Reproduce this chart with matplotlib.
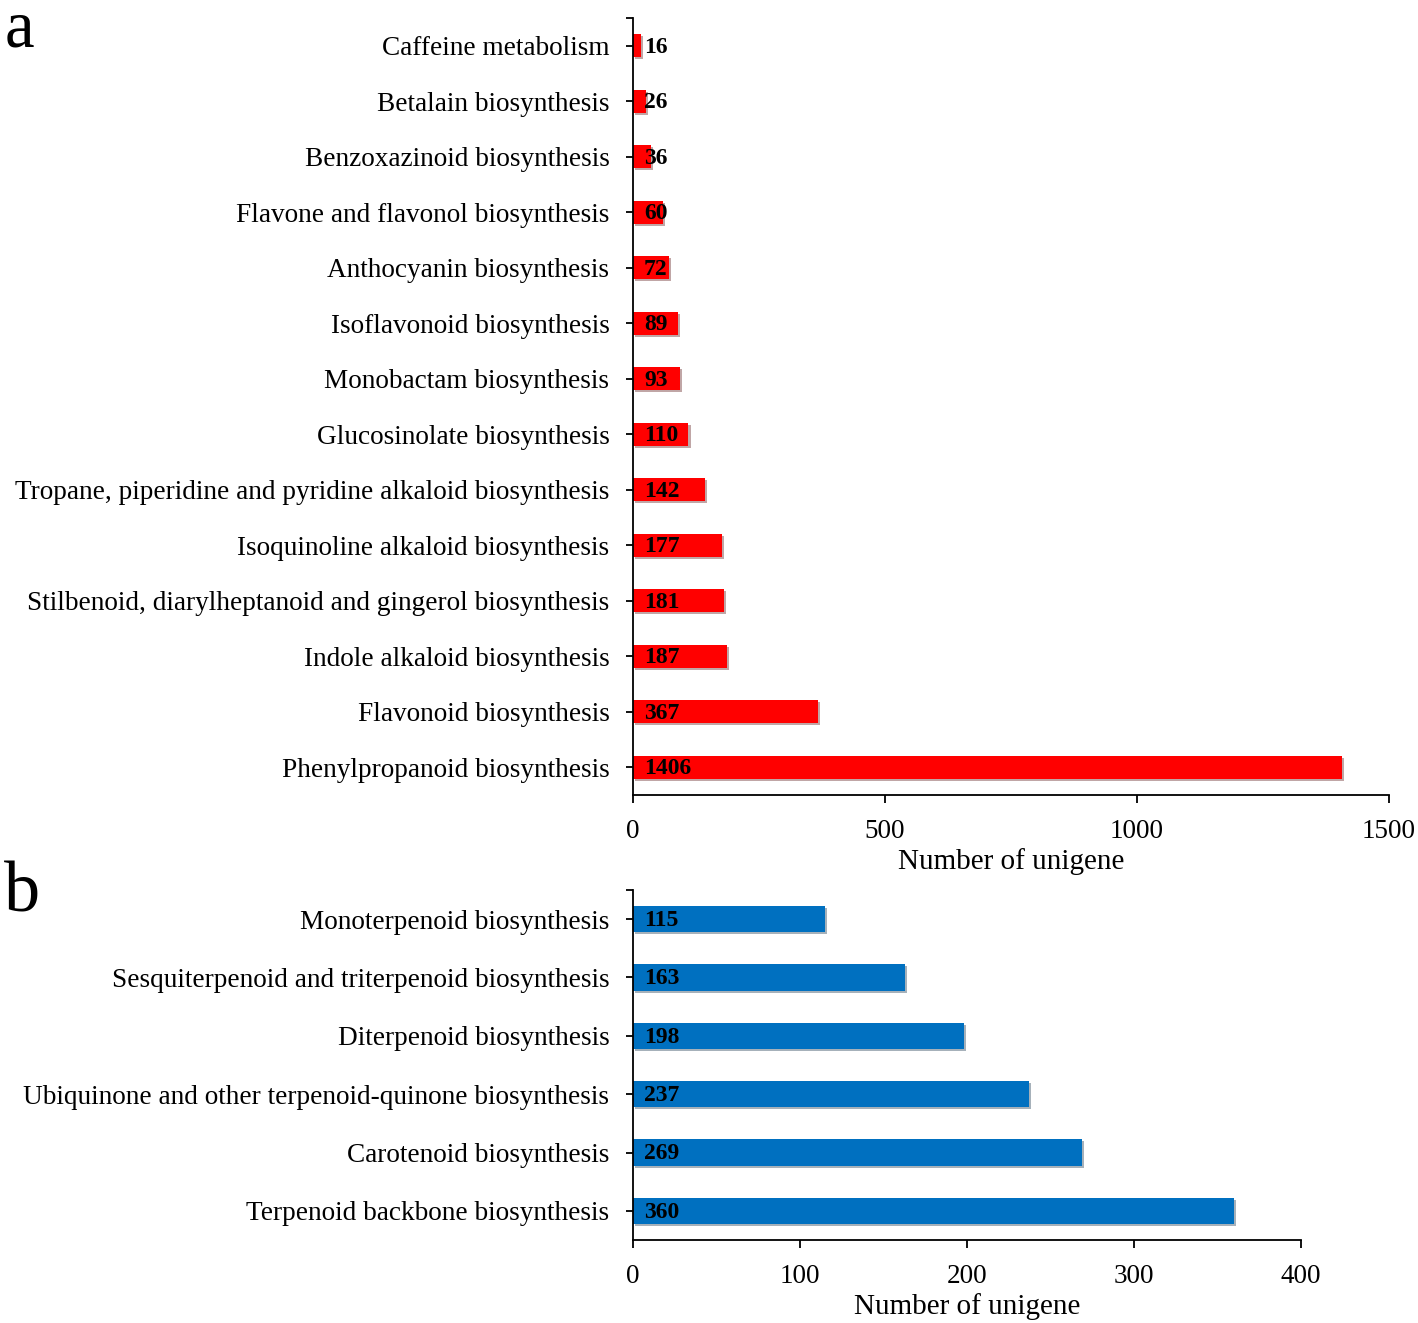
import matplotlib.pyplot as plt
import matplotlib.patheffects as pe

plt.rcParams['font.family'] = ['Liberation Serif', 'DejaVu Serif']

# panel a: secondary metabolism pathways (top to bottom)
path_a = ["Caffeine metabolism", "Betalain biosynthesis", "Benzoxazinoid biosynthesis",
          "Flavone and flavonol biosynthesis", "Anthocyanin biosynthesis",
          "Isoflavonoid biosynthesis", "Monobactam biosynthesis",
          "Glucosinolate biosynthesis",
          "Tropane, piperidine and pyridine alkaloid biosynthesis",
          "Isoquinoline alkaloid biosynthesis",
          "Stilbenoid, diarylheptanoid and gingerol biosynthesis",
          "Indole alkaloid biosynthesis", "Flavonoid biosynthesis",
          "Phenylpropanoid biosynthesis"]
count_a = [16, 26, 36, 60, 72, 89, 93, 110, 142, 177, 181, 187, 367, 1406]
ticks_a = [0, 500, 1000, 1500]

# panel b: terpenoid pathways (top to bottom)
path_b = ["Monoterpenoid biosynthesis",
          "Sesquiterpenoid and triterpenoid biosynthesis",
          "Diterpenoid biosynthesis",
          "Ubiquinone and other terpenoid-quinone biosynthesis",
          "Carotenoid biosynthesis", "Terpenoid backbone biosynthesis"]
count_b = [115, 163, 198, 237, 269, 360]
ticks_b = [0, 100, 200, 300, 400]


def draw_panel(ax, names, counts, ticks, color, height):
    n = len(names)
    ypos = list(range(n))
    bars = ax.barh(ypos, counts, height=height, color=color, zorder=2)
    for b in bars:
        b.set_path_effects([pe.SimplePatchShadow(offset=(1.5, -1.5), alpha=0.35),
                            pe.Normal()])
    for y, v in zip(ypos, counts):
        ax.annotate(str(v), (0, y), xytext=(8, -1), textcoords='offset points',
                    va='center', ha='left', fontsize=17, fontweight='bold',
                    zorder=3)
    ax.set_ylim(n - 0.5, -0.5)
    ax.set_xlim(ticks[0], ticks[-1])
    ax.set_yticks(ypos)
    ax.set_yticklabels(names, fontsize=19.6)
    ax.set_yticks([-0.5], minor=True)
    ax.set_xticks(ticks)
    ax.set_xticklabels([str(t) for t in ticks], fontsize=19.5)
    ax.tick_params(axis='y', which='both', length=5, width=1.3, pad=12)
    ax.tick_params(axis='x', length=6, width=1.3, pad=11)
    for s in ['top', 'right']:
        ax.spines[s].set_visible(False)
    for s in ['left', 'bottom']:
        ax.spines[s].set_linewidth(1.3)
    ax.set_xlabel("Number of unigene", fontsize=21, labelpad=3)


fig = plt.figure(figsize=(14.18, 13.23), dpi=100)
ax_a = fig.add_axes([0.4464, 0.3991, 0.5332, 0.5873])
ax_b = fig.add_axes([0.4464, 0.0627, 0.4711, 0.2646])

draw_panel(ax_a, path_a, count_a, ticks_a, '#FF0000', 0.42)
draw_panel(ax_b, path_b, count_b, ticks_b, '#0070C0', 0.45)

fig.text(0.003, 0.965, "a", fontsize=48, va='baseline', ha='left')
fig.text(0.003, 0.311, "b", fontsize=52, va='baseline', ha='left')

fig.savefig("out.png", dpi=100)
